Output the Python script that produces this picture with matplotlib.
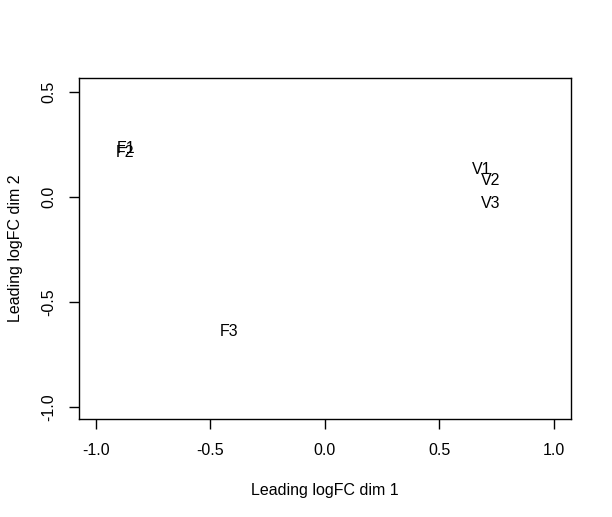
import matplotlib
matplotlib.use("Agg")
import matplotlib.pyplot as plt

labels = ["F1", "F2", "F3", "V1", "V2", "V3"]
dim1 = [-0.869, -0.873, -0.419, 0.686, 0.725, 0.725]
dim2 = [0.233, 0.214, -0.638, 0.129, 0.081, -0.029]
xticks = [-1.0, -0.5, 0.0, 0.5, 1.0]
yticks = [-1.0, -0.5, 0.0, 0.5]

plt.rcParams['font.family'] = ['Liberation Sans', 'DejaVu Sans']
fs = 11.5

fig = plt.figure(figsize=(6.12, 5.17), dpi=100)
ax = fig.add_axes([78.5/612, (517-419)/517, (571-78.5)/612, (419-78)/517])

for lab, x, y in zip(labels, dim1, dim2):
    ax.text(x, y, lab, ha='center', va='center', fontsize=fs, color='black')

ax.set_xlim(-1.075, 1.075)
ax.set_ylim(-1.057, 0.567)
ax.set_xticks(xticks)
ax.set_xticklabels([f"{t:.1f}" for t in xticks])
ax.set_yticks(yticks)
ax.set_yticklabels([f"{t:.1f}" for t in yticks], rotation=90, va='center')
ax.tick_params(direction='out', length=7, width=1, labelsize=fs)
ax.tick_params(axis='x', pad=10.5)
ax.tick_params(axis='y', pad=9)
for s in ax.spines.values():
    s.set_linewidth(1)

ax.set_xlabel("Leading logFC dim 1", fontsize=fs, labelpad=17.5)
ax.set_ylabel("Leading logFC dim 2", fontsize=fs, labelpad=13)

fig.savefig("out.png", dpi=100)
